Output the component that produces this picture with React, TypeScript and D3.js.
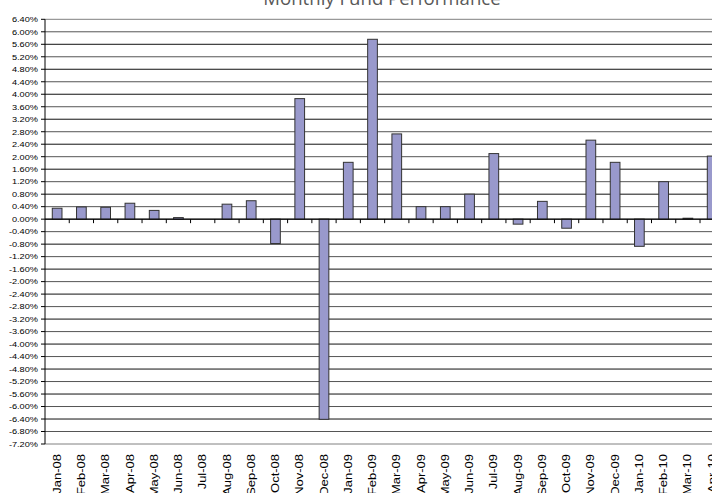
import React from "react";
import * as d3 from "d3";

const categories = [
  "Jan-08","Feb-08","Mar-08","Apr-08","May-08","Jun-08","Jul-08","Aug-08","Sep-08","Oct-08","Nov-08","Dec-08",
  "Jan-09","Feb-09","Mar-09","Apr-09","May-09","Jun-09","Jul-09","Aug-09","Sep-09","Oct-09","Nov-09","Dec-09",
  "Jan-10","Feb-10","Mar-10","Apr-10",
];
const returns = [
  0.35, 0.39, 0.38, 0.51, 0.28, 0.05, 0.0, 0.48, 0.59, -0.78, 3.86, -6.41,
  1.82, 5.76, 2.73, 0.40, 0.40, 0.80, 2.10, -0.16, 0.57, -0.29, 2.53, 1.82,
  -0.87, 1.20, 0.03, 2.02,
];
const yTicks = d3.range(-7.2, 6.4001, 0.4).map((v) => Math.round(v * 100) / 100);
const title = "Monthly Fund Performance";

export default function App() {
  const W = 712, H = 493;
  const left = 45;
  const step = 24.26;
  const x = d3
    .scaleBand<string>()
    .domain(categories)
    .range([left, left + step * categories.length])
    .paddingInner(0.6)
    .paddingOuter(0.3);
  const y = d3.scaleLinear().domain([-7.2, 6.4]).range([444, 19.3]);
  const y0 = y(0);
  const plotRight = left + step * categories.length;
  const font = "'Liberation Sans', Arial, sans-serif";

  return (
    <svg
      width={W}
      height={H}
      style={{ position: "absolute", left: 0, top: 0, background: "#fff" }}
    >
      <text
        x={382}
        y={4.5}
        textAnchor="middle"
        fontFamily="'Open Sans', sans-serif"
        fontSize={18.6}
        fill="#595959"
      >
        {title}
      </text>
      {yTicks.map((t, i) => (
        <line
          key={"g" + t}
          x1={left}
          x2={plotRight}
          y1={y(t)}
          y2={y(t)}
          stroke={t === 6.4 || t === -7.2 ? "#808080" : i % 2 === 0 ? "#111" : "#555"}
          strokeWidth={1}
        />
      ))}
      {yTicks.map((t) => (
        <g key={"t" + t}>
          <line x1={left - 4} x2={left} y1={y(t)} y2={y(t)} stroke="#000" />
          <text
            transform={`translate(38,${y(t)}) scale(1.15,1)`}
            dy="0.35em"
            textAnchor="end"
            fontFamily={font}
            fontSize={8}
            fill="#000"
          >
            {t.toFixed(2) + "%"}
          </text>
        </g>
      ))}
      {categories.map((c, i) => {
        const v = returns[i];
        if (v === 0) return null;
        const yTop = Math.min(y(v), y0);
        const h = Math.abs(y(v) - y0);
        return (
          <rect
            key={c}
            x={x(c)}
            y={yTop}
            width={x.bandwidth()}
            height={h}
            fill="#9999CC"
            stroke="#333"
            strokeWidth={1}
          />
        );
      })}
      <line x1={left} x2={plotRight} y1={y0} y2={y0} stroke="#000" />
      {categories.map((c, i) =>
        i === 0 ? null : (
          <line
            key={"xt" + c}
            x1={left + i * step}
            x2={left + i * step}
            y1={y0}
            y2={y0 + 4}
            stroke="#000"
          />
        )
      )}
      <line x1={left} x2={left} y1={y(6.4)} y2={y(-7.2)} stroke="#000" />
      {categories.map((c) => {
        const cx = (x(c) as number) + x.bandwidth() / 2;
        return (
          <text
            key={"xl" + c}
            transform={`translate(${cx + 3.6},454) rotate(-90) scale(1.3,1)`}
            textAnchor="end"
            fontFamily={font}
            fontSize={10}
            fill="#000"
          >
            {c}
          </text>
        );
      })}
    </svg>
  );
}
